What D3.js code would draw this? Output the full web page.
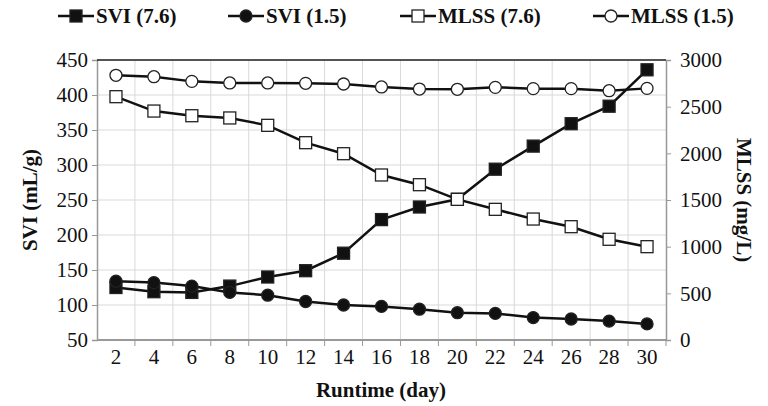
<!DOCTYPE html>
<html>
<head>
<meta charset="utf-8">
<script src="https://cdn.jsdelivr.net/npm/d3@7"></script>
</head>
<body style="margin:0">
<svg width="768" height="406" font-family="Liberation Serif"></svg>
<script>
let days = [2, 4, 6, 8, 10, 12, 14, 16, 18, 20, 22, 24, 26, 28, 30]
let sviHigh = [125, 119, 118, 127, 140, 149, 174, 222, 240, 251, 294, 327, 359, 384, 436]
let sviLow = [134, 132, 127, 118, 114, 105, 100, 98, 94, 89, 88, 82, 80, 77, 73]
let mlssHigh = [2607, 2453, 2403, 2379, 2300, 2114, 1996, 1768, 1664, 1507, 1400, 1296, 1214, 1079, 1000]
let mlssLow = [2836, 2821, 2771, 2754, 2754, 2750, 2743, 2711, 2689, 2686, 2707, 2693, 2693, 2671, 2696]
let leftTicks = [50, 100, 150, 200, 250, 300, 350, 400, 450]
let rightTicks = [0, 500, 1000, 1500, 2000, 2500, 3000]

let series = [
  { name: 'SVI (7.6)', values: sviHigh, axis: 'left', shape: 'square', fill: '#111' },
  { name: 'SVI (1.5)', values: sviLow, axis: 'left', shape: 'circle', fill: '#111' },
  { name: 'MLSS (7.6)', values: mlssHigh, axis: 'right', shape: 'square', fill: '#fff' },
  { name: 'MLSS (1.5)', values: mlssLow, axis: 'right', shape: 'circle', fill: '#fff' }
]

let plotLeft = 97, plotRight = 666, plotTop = 60, plotBottom = 340
let serif = 'Liberation Serif'

let svg = d3.select('svg')

let x = d3.scaleBand().domain(days).range([plotLeft, plotRight]).padding(0)
let yLeft = d3.scaleLinear().domain([50, 450]).range([plotBottom, plotTop])
let yRight = d3.scaleLinear().domain([0, 3000]).range([plotBottom, plotTop])

// gridlines
svg.append('g').selectAll('line').data(leftTicks).enter().append('line')
  .attr('x1', plotLeft).attr('x2', plotRight)
  .attr('y1', d => yLeft(d)).attr('y2', d => yLeft(d))
  .attr('stroke', '#d9d9d9').attr('stroke-width', 1)

svg.append('g').selectAll('line').data(days.slice(1)).enter().append('line')
  .attr('x1', d => x(d)).attr('x2', d => x(d))
  .attr('y1', plotTop).attr('y2', plotBottom)
  .attr('stroke', '#d9d9d9').attr('stroke-width', 1)

// axes
svg.append('g').attr('transform', 'translate(' + plotLeft + ',0)')
  .call(d3.axisLeft(yLeft).tickValues(leftTicks).tickSize(5).tickPadding(4))
svg.append('g').attr('transform', 'translate(' + plotRight + ',0)')
  .call(d3.axisRight(yRight).tickValues(rightTicks).tickFormat(d3.format('d')).tickSize(5).tickPadding(9))

let bottomAxis = svg.append('g').attr('transform', 'translate(0,' + plotBottom + ')')
  .call(d3.axisBottom(x).tickSize(0).tickPadding(9))
bottomAxis.select('.domain').remove()
svg.append('g').selectAll('line').data(days.slice(1).concat(['end'])).enter().append('line')
  .attr('x1', d => d === 'end' ? plotRight : x(d)).attr('x2', d => d === 'end' ? plotRight : x(d))
  .attr('y1', plotBottom).attr('y2', plotBottom + 6)
  .attr('stroke', '#999').attr('stroke-width', 1)
svg.append('line')
  .attr('x1', plotLeft).attr('x2', plotRight).attr('y1', plotBottom).attr('y2', plotBottom)
  .attr('stroke', '#999').attr('stroke-width', 2)

svg.selectAll('g').attr('font-family', serif)
svg.selectAll('.domain').attr('stroke', '#999').attr('stroke-width', 1.5)
svg.selectAll('.tick line').attr('stroke', '#999')
svg.selectAll('.tick text')
  .attr('font-family', serif).attr('font-size', 21).attr('fill', '#111')

svg.append('line')
  .attr('x1', plotLeft).attr('x2', plotRight).attr('y1', plotTop).attr('y2', plotTop)
  .attr('stroke', '#222').attr('stroke-width', 1.5)

// series
function drawMarker(g, shape, fill, cx, cy) {
  if (shape === 'square') {
    g.append('rect')
      .attr('x', cx - 6).attr('y', cy - 6).attr('width', 12).attr('height', 12)
      .attr('fill', fill).attr('stroke', '#222').attr('stroke-width', 1.3)
  } else {
    g.append('circle')
      .attr('cx', cx).attr('cy', cy).attr('r', 6)
      .attr('fill', fill).attr('stroke', '#222').attr('stroke-width', 1.3)
  }
}

series.forEach(function (s) {
  let y = s.axis === 'left' ? yLeft : yRight
  let line = d3.line()
    .x((d, i) => x(days[i]) + x.bandwidth() / 2)
    .y(d => y(d))
  let g = svg.append('g')
  g.append('path').datum(s.values)
    .attr('d', line).attr('fill', 'none')
    .attr('stroke', '#111').attr('stroke-width', 2.5)
  s.values.forEach(function (v, i) {
    drawMarker(g, s.shape, s.fill, x(days[i]) + x.bandwidth() / 2, y(v))
  })
})

// legend
let legendX = [58, 228, 400, 593]
series.forEach(function (s, i) {
  let g = svg.append('g')
  g.append('line')
    .attr('x1', legendX[i]).attr('x2', legendX[i] + 36)
    .attr('y1', 16).attr('y2', 16)
    .attr('stroke', '#111').attr('stroke-width', 2.5)
  drawMarker(g, s.shape, s.fill, legendX[i] + 18, 16)
  g.append('text')
    .attr('x', legendX[i] + 38).attr('y', 23)
    .attr('font-family', serif).attr('font-size', 21).attr('font-weight', 'bold')
    .attr('fill', '#111')
    .text(s.name)
})

// axis titles
svg.append('text')
  .attr('transform', 'translate(37,' + (plotTop + plotBottom) / 2 + ') rotate(-90)')
  .attr('text-anchor', 'middle')
  .attr('font-family', serif).attr('font-size', 21).attr('font-weight', 'bold')
  .attr('fill', '#111')
  .text('SVI (mL/g)')

svg.append('text')
  .attr('transform', 'translate(737,' + (plotTop + plotBottom) / 2 + ') rotate(90)')
  .attr('text-anchor', 'middle')
  .attr('font-family', serif).attr('font-size', 21).attr('font-weight', 'bold')
  .attr('fill', '#111')
  .text('MLSS (mg/L)')

svg.append('text')
  .attr('x', 381).attr('y', 397)
  .attr('text-anchor', 'middle')
  .attr('font-family', serif).attr('font-size', 21).attr('font-weight', 'bold')
  .attr('fill', '#111')
  .text('Runtime (day)')
</script>
</body>
</html>
